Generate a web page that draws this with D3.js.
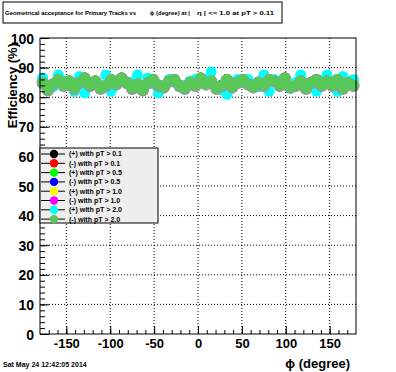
<!DOCTYPE html>
<html>
<head>
<meta charset="utf-8">
<script src="https://cdn.jsdelivr.net/npm/d3@7"></script>
<style>
  body { margin: 0; background: #fff; }
  text { font-family: "Liberation Sans", Arial, sans-serif; font-weight: bold; }
</style>
</head>
<body>
<div id="chart"></div>
<script>
// phi bin centres (degree), 6 degree bins
const phiBins = d3.range(-177, 180, 6);

// efficiency (%) per phi bin (lower-pT series sit hidden under the last one)
const posPt01 = [85.1,82.6,84.4,85.9,84.1,85.4,83.1,85.1,86.4,84.1,85.4,83.1,84.1,85.9,84.6,86.4,85.1,83.1,84.6,82.6,85.1,85.9,84.1,83.6,85.4,85.9,84.1,83.1,85.1,84.1,86.4,84.6,85.4,83.1,84.1,85.9,83.6,85.1,85.9,84.6,83.6,85.1,84.1,85.9,85.4,84.1,86.4,83.6,84.1,85.4,83.1,85.1,85.9,84.1,85.4,84.1,85.9,83.1,85.1,84.1];
const negPt01 = [84.9,82.6,84.5,85.9,84.0,85.4,83.0,84.9,86.4,84.0,85.4,83.0,84.0,85.9,84.5,86.4,84.9,83.0,84.5,82.6,84.9,85.9,84.0,83.5,85.4,85.9,84.0,83.0,84.9,84.0,86.4,84.5,85.4,83.0,84.0,85.9,83.5,84.9,85.9,84.5,83.5,84.9,84.0,85.9,85.4,84.0,86.4,83.5,84.0,85.4,83.0,84.9,85.9,84.0,85.4,84.0,85.9,83.0,84.9,84.0];
const posPt05 = [85.0,82.5,84.4,86.0,84.1,85.5,83.1,85.0,86.5,84.1,85.5,83.1,84.1,86.0,84.4,86.5,85.0,83.1,84.4,82.5,85.0,86.0,84.1,83.5,85.5,86.0,84.1,83.1,85.0,84.1,86.5,84.4,85.5,83.1,84.1,86.0,83.5,85.0,86.0,84.4,83.5,85.0,84.1,86.0,85.5,84.1,86.5,83.5,84.1,85.5,83.1,85.0,86.0,84.1,85.5,84.1,86.0,83.1,85.0,84.1];
const negPt05 = [85.0,82.5,84.5,86.0,84.0,85.5,83.0,85.0,86.5,84.0,85.5,83.0,84.0,86.0,84.5,86.5,85.0,83.0,84.5,82.5,85.0,86.0,84.0,83.5,85.5,86.0,84.0,83.0,85.0,84.0,86.5,84.5,85.5,83.0,84.0,86.0,83.5,85.0,86.0,84.5,83.5,85.0,84.0,86.0,85.5,84.0,86.5,83.5,84.0,85.5,83.0,85.0,86.0,84.0,85.5,84.0,86.0,83.0,85.0,84.0];
const posPt10 = [85.0,82.5,84.5,86.0,84.0,85.5,83.0,85.0,86.5,84.0,85.5,83.0,84.0,86.0,84.5,86.5,85.0,83.0,84.5,82.5,85.0,86.0,84.0,83.5,85.5,86.0,84.0,83.0,85.0,84.0,86.5,84.5,85.5,83.0,84.0,86.0,83.5,85.0,86.0,84.5,83.5,85.0,84.0,86.0,85.5,84.0,86.5,83.5,84.0,85.5,83.0,85.0,86.0,84.0,85.5,84.0,86.0,83.0,85.0,84.0];
const negPt10 = [85.0,82.5,84.5,86.0,84.0,85.5,83.0,85.0,86.5,84.0,85.5,83.0,84.0,86.0,84.5,86.5,85.0,83.0,84.5,82.5,85.0,86.0,84.0,83.5,85.5,86.0,84.0,83.0,85.0,84.0,86.5,84.5,85.5,83.0,84.0,86.0,83.5,85.0,86.0,84.5,83.5,85.0,84.0,86.0,85.5,84.0,86.5,83.5,84.0,85.5,83.0,85.0,86.0,84.0,85.5,84.0,86.0,83.0,85.0,84.0];
const posPt20 = [86.5,83.0,83.5,87.5,85.5,84.0,82.0,87.0,81.5,85.0,84.5,84.0,87.5,82.0,85.0,86.0,84.5,85.0,87.5,83.5,86.5,84.5,81.5,84.0,86.0,85.0,83.5,84.0,85.5,86.0,85.5,86.0,88.5,83.5,82.5,81.0,84.5,86.0,85.0,86.0,84.0,83.5,87.5,82.0,86.0,85.0,84.5,83.0,85.0,87.5,84.5,83.5,82.0,85.5,87.5,84.5,82.0,87.0,84.5,86.0];
const negPt20 = [85.0,82.5,84.5,86.0,84.0,85.5,83.0,85.0,86.5,84.0,85.5,83.0,84.0,86.0,84.5,86.5,85.0,83.0,84.5,82.5,85.0,86.0,84.0,83.5,85.5,86.0,84.0,83.0,85.0,84.0,86.5,84.5,85.5,83.0,84.0,86.0,83.5,85.0,86.0,84.5,83.5,85.0,84.0,86.0,85.5,84.0,86.5,83.5,84.0,85.5,83.0,85.0,86.0,84.0,85.5,84.0,86.0,83.0,85.0,84.0];

const seriesNames = ["(+) with pT > 0.1", "(-) with pT > 0.1", "(+) with pT > 0.5", "(-) with pT > 0.5",
                     "(+) with pT > 1.0", "(-) with pT > 1.0", "(+) with pT > 2.0", "(-) with pT > 2.0"];
const seriesValues = [posPt01, negPt01, posPt05, negPt05, posPt10, negPt10, posPt20, negPt20];
const seriesColors = ["#000000", "#ff0000", "#00ff00", "#0000ff", "#ffff00", "#ff00ff", "#00ffff", "#58c858"];

const yTicks = d3.range(0, 101, 10);
const xTicks = [-150, -100, -50, 0, 50, 100, 150];

const W = 396, H = 372;
const m = { left: 40, right: 356, top: 38, bottom: 334 };

const svg = d3.select("#chart").append("svg")
  .attr("width", W).attr("height", H);

const x = d3.scaleLinear().domain([-180, 180]).range([m.left, m.right]);
const y = d3.scaleLinear().domain([0, 100]).range([m.bottom, m.top]);

// dotted grid
svg.append("g").selectAll("line")
  .data(xTicks).enter().append("line")
  .attr("x1", d => x(d)).attr("x2", d => x(d))
  .attr("y1", m.top).attr("y2", m.bottom)
  .attr("stroke", "#000").attr("stroke-dasharray", "1,2");
svg.append("g").selectAll("line")
  .data(yTicks.slice(1, -1)).enter().append("line")
  .attr("x1", m.left).attr("x2", m.right)
  .attr("y1", d => y(d)).attr("y2", d => y(d))
  .attr("stroke", "#000").attr("stroke-dasharray", "1,2");

// markers, last series gets a grey rim like the original
const plot = svg.append("g");
seriesValues.forEach((vals, k) => {
  const pts = vals.map((v, i) => [phiBins[i], v]);
  if (k === seriesValues.length - 1) {
    plot.append("g").selectAll("circle")
      .data(pts).enter().append("circle")
      .attr("cx", d => x(d[0])).attr("cy", d => y(d[1]) + 0.6)
      .attr("r", 6.2).attr("fill", "#9a92a4");
  }
  plot.append("g").selectAll("circle")
    .data(pts).enter().append("circle")
    .attr("cx", d => x(d[0])).attr("cy", d => y(d[1]))
    .attr("r", 5.5).attr("fill", seriesColors[k]);
});

// axes (ticks pointing inward)
const yAxis = svg.append("g").attr("transform", `translate(${m.left},0)`)
  .call(d3.axisLeft(y).tickValues(yTicks).tickSize(-9).tickPadding(6).tickFormat(d3.format("d")));
svg.append("g").attr("transform", `translate(${m.left},0)`)
  .call(d3.axisLeft(y).tickValues(d3.range(0, 101, 2)).tickSize(-5).tickFormat(""));
yAxis.selectAll("text").style("font-size", "14px").attr("dy", "0.36em");

const xAxis = svg.append("g").attr("transform", `translate(0,${m.bottom})`)
  .call(d3.axisBottom(x).tickValues(xTicks).tickSize(-8).tickPadding(5).tickFormat(d3.format("d")));
svg.append("g").attr("transform", `translate(0,${m.bottom})`)
  .call(d3.axisBottom(x).tickValues(d3.range(-170, 180, 10)).tickSize(-4).tickFormat(""));
xAxis.selectAll("text").style("font-size", "13px").text(d => d < 0 ? "-" + Math.abs(d) : d);

svg.selectAll(".domain").remove();
svg.selectAll(".tick line").attr("stroke", "#000");
svg.selectAll(".tick text").attr("fill", "#000");

// frame
svg.append("rect")
  .attr("x", m.left).attr("y", m.top)
  .attr("width", m.right - m.left).attr("height", m.bottom - m.top)
  .attr("fill", "none").attr("stroke", "#000");

// axis titles
svg.append("text").attr("x", 350).attr("y", 368).attr("text-anchor", "end")
  .style("font-size", "13px").text("ϕ (degree)");
svg.append("text").attr("transform", "translate(17,43) rotate(-90)")
  .attr("text-anchor", "end").style("font-size", "13px").text("Efficiency (%)");

// legend
const lg = svg.append("g");
lg.append("rect").attr("x", 40).attr("y", 148).attr("width", 118).attr("height", 75)
  .attr("fill", "#eeeeee").attr("stroke", "#000");
const rows = lg.selectAll("g.row").data(seriesNames).enter().append("g")
  .attr("transform", (d, i) => `translate(0,${154 + i * 9.3})`);
rows.append("line").attr("x1", 41).attr("x2", 65).attr("stroke", "#000");
rows.append("circle").attr("cx", 54).attr("r", 4.2).attr("fill", (d, i) => seriesColors[i]);
rows.append("text").attr("x", 69).attr("dy", "0.35em").style("font-size", "7px").text(d => d);

// title box
svg.append("rect").attr("x", 3).attr("y", 2).attr("width", 279).attr("height", 21)
  .attr("fill", "#fff").attr("stroke", "#000");
const title = svg.append("g").style("font-size", "6px");
title.append("text").attr("x", 5).attr("y", 15)
  .attr("textLength", 131).attr("lengthAdjust", "spacingAndGlyphs")
  .text("Geometrical acceptance for Primary Tracks vs");
title.append("text").attr("x", 190).attr("y", 15).attr("text-anchor", "end")
  .text("ϕ (degree) at |");
title.append("text").attr("x", 197).attr("y", 15)
  .attr("textLength", 77).attr("lengthAdjust", "spacingAndGlyphs")
  .text("η | <= 1.0 at pT > 0.11");

// date stamp
svg.append("text").attr("x", 3).attr("y", 367).style("font-size", "7px").text("Sat May 24 12:42:05 2014");
</script>
</body>
</html>
